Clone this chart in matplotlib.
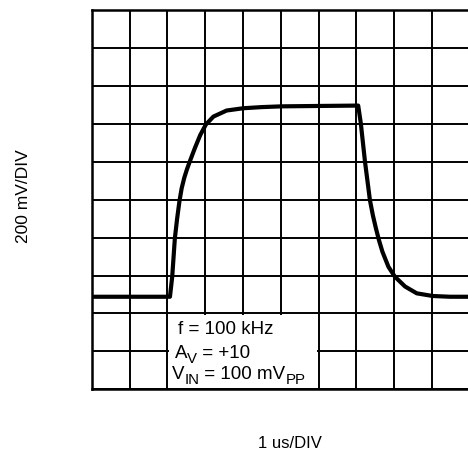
import matplotlib
matplotlib.use('Agg')
import matplotlib.pyplot as plt
from matplotlib.patches import Rectangle

plt.rcParams['font.family'] = ['Liberation Sans', 'DejaVu Sans']

# scope trace, in divisions (x: 1 us/div, y: 200 mV/div)
wave_x = [0.0, 2.07, 2.13, 2.20, 2.26, 2.32, 2.38, 2.45, 2.52, 2.60, 2.73, 2.87, 3.02,
          3.22, 3.57, 4.01, 4.5, 5.03, 6.0, 7.05, 7.12, 7.23, 7.36, 7.44, 7.52, 7.60,
          7.69, 7.85, 8.02, 8.29, 8.60, 9.02, 9.48, 10.0]
wave_y = [2.44, 2.44, 2.97, 3.98, 4.50, 4.95, 5.30, 5.58, 5.80, 6.02, 6.36, 6.70, 6.98,
          7.19, 7.35, 7.41, 7.44, 7.46, 7.47, 7.48, 7.01, 6.00, 4.99, 4.58, 4.24, 3.93,
          3.63, 3.23, 2.97, 2.71, 2.53, 2.46, 2.44, 2.44]

n_div_x = 10
n_div_y = 10
# each note: list of (text, is_subscript)
notes = [[('f = 100 kHz', False)],
         [('A', False), ('V', True), (' = +10', False)],
         [('V', False), ('IN', True), (' = 100 mV', False), ('PP', True)]]
note_x = [2.28, 2.20, 2.12]
note_y = [1.62, 0.98, 0.43]
x_label = '1 us/DIV'
y_label = '200 mV/DIV'

fs = 13.5

def chain_text(ax, x, y, parts):
    prev = None
    prev_sub = False
    for txt, sub in parts:
        size = fs * 0.8 if sub else fs
        if prev is None:
            prev = ax.text(x, y, txt, fontsize=size, va='baseline', ha='left', zorder=4)
        else:
            dy = -3 if sub else 0
            if prev_sub and not sub:
                dy = 3
            prev = ax.annotate(txt, xy=(1, 0), xycoords=prev, xytext=(0, dy),
                               textcoords='offset points', fontsize=size,
                               va='bottom', ha='left', zorder=4,
                               annotation_clip=False)
        prev_sub = sub

fig = plt.figure(figsize=(4.68, 4.57), dpi=100)
ax = fig.add_axes([91.7 / 468, 67.7 / 457, 378 / 468, 379.3 / 457])

ax.set_xlim(0, n_div_x)
ax.set_ylim(0, n_div_y)
ax.set_xticks(range(n_div_x + 1))
ax.set_yticks(range(n_div_y + 1))
ax.tick_params(length=0, labelbottom=False, labelleft=False)
ax.set_axisbelow(True)
ax.grid(True, color='black', linewidth=1.4)
for s in ax.spines.values():
    s.set_linewidth(1.8)
ax.spines['right'].set_visible(False)

# white box for the notes
ax.add_patch(Rectangle((2.04, 0.04), 3.92, 1.92, facecolor='white', edgecolor='none', zorder=1))

ax.plot(wave_x, wave_y, color='black', linewidth=3.0, zorder=3, solid_joinstyle='round')

for i in range(len(notes)):
    chain_text(ax, note_x[i], note_y[i] - 0.16, notes[i])

fig.text(290 / 468, 1 - 444 / 457, x_label, fontsize=12, ha='center', va='center')
fig.text(24 / 468, 1 - 196 / 457, y_label, fontsize=12.5, ha='center', va='center', rotation=90)

fig.savefig('out.png', dpi=100)
